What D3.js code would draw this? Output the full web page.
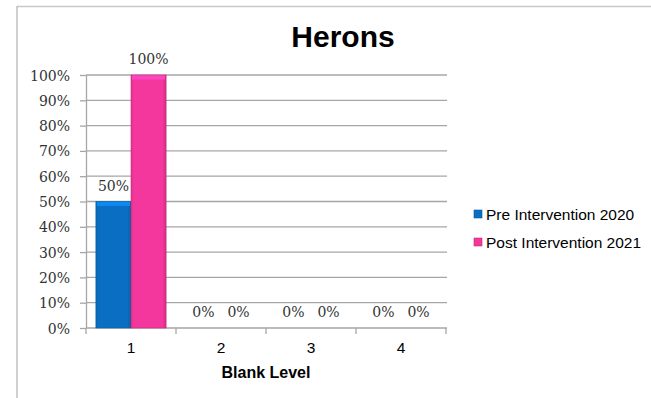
<!DOCTYPE html>
<html>
<head>
<meta charset="utf-8">
<script src="https://cdn.jsdelivr.net/npm/d3@7/dist/d3.min.js"></script>
<style>
  html, body { margin: 0; padding: 0; background: #fff; }
  svg { display: block; }
</style>
</head>
<body>
<svg id="chart" width="651" height="398"></svg>
<script>
// Blank level categories and the share of pupils at each level
const categories = ["1", "2", "3", "4"];
const seriesNames = ["Pre Intervention 2020", "Post Intervention 2021"];
const preValues = [50, 0, 0, 0];
const postValues = [100, 0, 0, 0];
const yTicks = [0, 10, 20, 30, 40, 50, 60, 70, 80, 90, 100];
const colors = ["#0a6fc2", "#f4379c"];

const svg = d3.select("#chart");

// outer frame (top and left edges)
svg.append("line").attr("x1", 17).attr("x2", 651).attr("y1", 6.5).attr("y2", 6.5)
  .attr("stroke", "#c8c8c8").attr("stroke-width", 1.5);
svg.append("line").attr("x1", 17).attr("x2", 17).attr("y1", 6).attr("y2", 398)
  .attr("stroke", "#b0b0b0").attr("stroke-width", 1.2);

const plot = { left: 86, right: 446, top: 75, bottom: 328 };

const x0 = d3.scaleBand().domain(categories).range([plot.left, plot.right]).paddingInner(0.22).paddingOuter(0.11);
const x1 = d3.scaleBand().domain(seriesNames).range([0, x0.bandwidth()]);
const y = d3.scaleLinear().domain([0, 100]).range([plot.bottom, plot.top]);

// gradients for the bevelled bars
const defs = svg.append("defs");
colors.forEach((c, i) => {
  const g = defs.append("linearGradient").attr("id", "bar" + i).attr("x1", 0).attr("x2", 1).attr("y1", 0).attr("y2", 0);
  g.append("stop").attr("offset", "0%").attr("stop-color", d3.color(c).darker(0.25));
  g.append("stop").attr("offset", "8%").attr("stop-color", c);
  g.append("stop").attr("offset", "90%").attr("stop-color", c);
  g.append("stop").attr("offset", "100%").attr("stop-color", d3.color(c).darker(0.5));
});

// horizontal gridlines
svg.append("g").selectAll("line").data(yTicks.filter(t => t > 0)).join("line")
  .attr("x1", plot.left).attr("x2", plot.right + 1)
  .attr("y1", d => y(d)).attr("y2", d => y(d))
  .attr("stroke", "#a6a6a6").attr("stroke-width", 1.3);

// y axis
const yAxis = svg.append("g").attr("transform", `translate(${plot.left},0)`)
  .call(d3.axisLeft(y).tickValues(yTicks).tickFormat(d => d + "%").tickSize(6).tickSizeOuter(0));
yAxis.select(".domain").attr("stroke", "#a6a6a6").attr("stroke-width", 1.3);
yAxis.selectAll(".tick line").attr("stroke", "#a6a6a6").attr("stroke-width", 1.3);
yAxis.selectAll(".tick text").attr("x", -16).attr("dy", "0.36em")
  .attr("font-family", "'DejaVu Serif', serif").attr("font-size", 14).attr("fill", "#333");

// x axis
const xAxis = svg.append("g").attr("transform", `translate(0,${plot.bottom})`)
  .call(d3.axisBottom(x0).tickSize(0).tickSizeOuter(0));
xAxis.select(".domain").attr("stroke", "#a6a6a6").attr("stroke-width", 1.3)
  .attr("d", `M${plot.left},0H${plot.right + 1}`);
xAxis.selectAll(".tick text").attr("y", 25).attr("dy", 0)
  .attr("font-family", "Arial, 'Liberation Sans', sans-serif").attr("font-size", 15.5).attr("fill", "#000");
// category separator ticks
const sepTicks = categories.map((c, i) => i === 0 ? x0.range()[0] : (x0(categories[i - 1]) + x0.bandwidth() + x0(c)) / 2)
  .concat([plot.right]);
svg.append("g").selectAll("line").data(sepTicks).join("line")
  .attr("x1", d => d).attr("x2", d => d)
  .attr("y1", plot.bottom).attr("y2", plot.bottom + 6)
  .attr("stroke", "#a6a6a6").attr("stroke-width", 1.3);

// bars
const rows = categories.map((c, i) => ({ cat: c, vals: [preValues[i], postValues[i]] }));
const groups = svg.append("g").selectAll("g").data(rows).join("g")
  .attr("transform", d => `translate(${x0(d.cat)},0)`);

groups.selectAll("rect.bar").data(d => d.vals.map((v, i) => ({ v, i }))).join("rect")
  .attr("class", "bar")
  .attr("x", d => x1(seriesNames[d.i]))
  .attr("y", d => y(d.v))
  .attr("width", x1.bandwidth())
  .attr("height", d => y(0) - y(d.v))
  .attr("fill", d => `url(#bar${d.i})`)
  .attr("stroke", d => d3.color(colors[d.i]).darker(0.6))
  .attr("stroke-width", 0.6)
  .attr("display", d => d.v > 0 ? null : "none");

// bevel highlight along the top of each bar
groups.selectAll("rect.top").data(d => d.vals.map((v, i) => ({ v, i })).filter(e => e.v > 0)).join("rect")
  .attr("class", "top")
  .attr("x", d => x1(seriesNames[d.i]) + 1)
  .attr("y", d => y(d.v) + 0.5)
  .attr("width", x1.bandwidth() - 2)
  .attr("height", 4)
  .attr("fill", d => d3.color(colors[d.i]).brighter(0.6));

// value labels
groups.selectAll("text").data(d => d.vals.map((v, i) => ({ v, i }))).join("text")
  .attr("x", d => x1(seriesNames[d.i]) + x1.bandwidth() / 2)
  .attr("y", d => y(d.v) - 11)
  .attr("text-anchor", "middle")
  .attr("font-family", "'DejaVu Serif', serif").attr("font-size", 14).attr("fill", "#333")
  .text(d => d.v + "%");

// title
svg.append("text").attr("x", 343).attr("y", 47).attr("text-anchor", "middle")
  .attr("font-family", "Arial, 'Liberation Sans', sans-serif").attr("font-weight", "bold")
  .attr("font-size", 30).attr("fill", "#000").text("Herons");

// axis title
svg.append("text").attr("x", 266).attr("y", 378).attr("text-anchor", "middle")
  .attr("font-family", "Arial, 'Liberation Sans', sans-serif").attr("font-weight", "bold")
  .attr("font-size", 16).attr("fill", "#000").text("Blank Level");

// legend
const legend = svg.append("g").selectAll("g").data(seriesNames).join("g")
  .attr("transform", (d, i) => `translate(474,${214 + i * 28})`);
legend.append("rect").attr("x", 0).attr("y", -4).attr("width", 8).attr("height", 8)
  .attr("fill", (d, i) => colors[i]).attr("stroke", (d, i) => d3.color(colors[i]).darker(0.6)).attr("stroke-width", 0.6);
legend.append("text").attr("x", 12).attr("y", 5.5)
  .attr("font-family", "Arial, 'Liberation Sans', sans-serif").attr("font-size", 15.5).attr("fill", "#000")
  .text(d => d);
</script>
</body>
</html>
